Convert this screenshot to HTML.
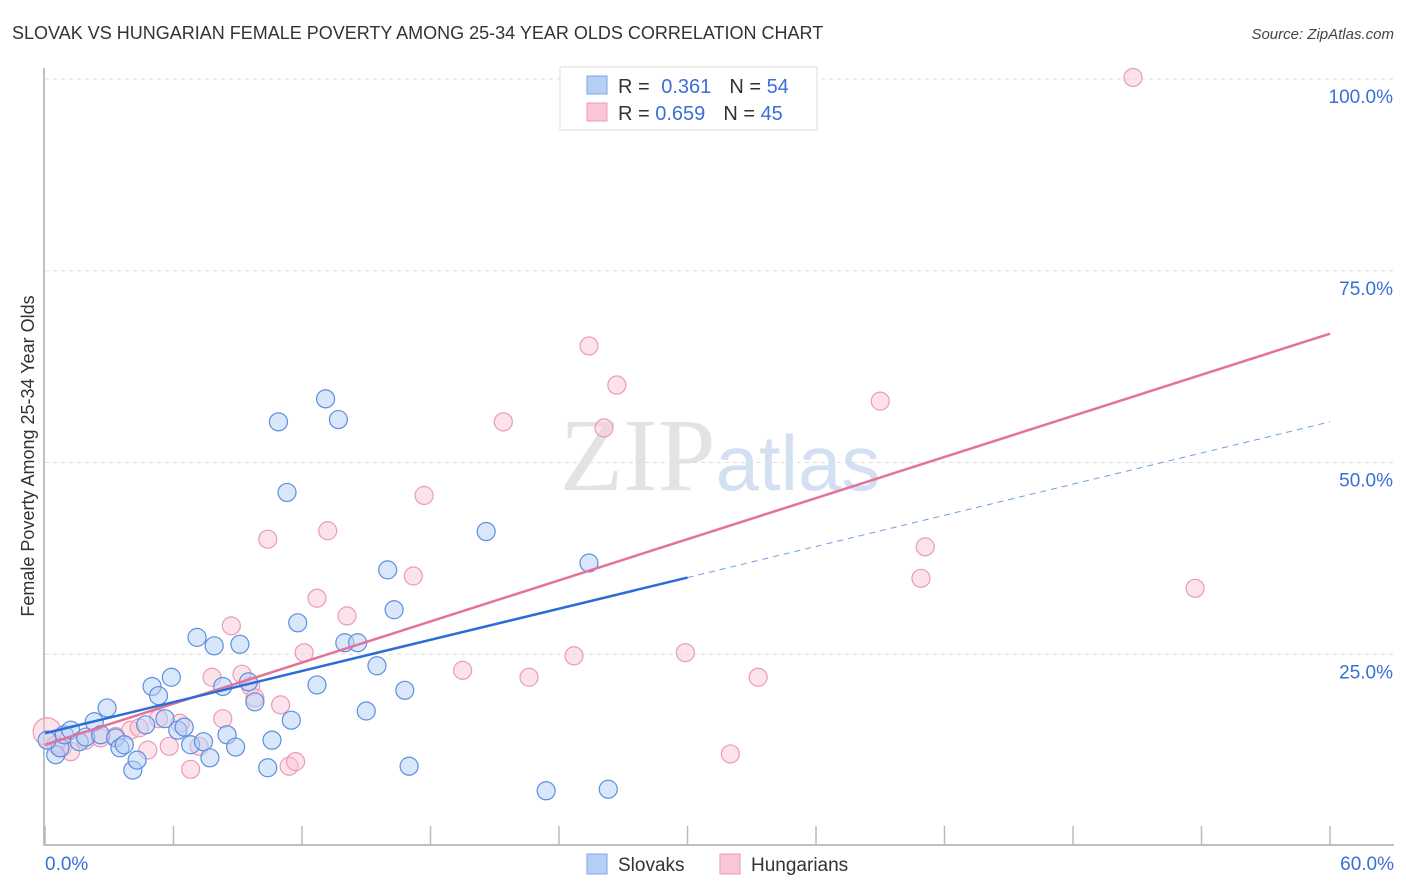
<!DOCTYPE html>
<html><head><meta charset="utf-8"><style>
body{margin:0;background:#fff;font-family:"Liberation Sans",sans-serif;}
svg{display:block}
</style></head><body>
<svg id="chart" width="1406" height="892" xmlns="http://www.w3.org/2000/svg">
<text x="12" y="39" font-size="18" fill="#333">SLOVAK VS HUNGARIAN FEMALE POVERTY AMONG 25-34 YEAR OLDS CORRELATION CHART</text>
<text x="1394" y="39" font-size="15" font-style="italic" fill="#444" text-anchor="end">Source: ZipAtlas.com</text>
<text x="720" y="490" font-size="104" font-family="Liberation Serif" fill="#ddd" text-anchor="middle" opacity="0.8">ZIP<tspan fill="#c9d9f0" font-family="Liberation Sans" font-size="78">atlas</tspan></text>
<g id="grid"></g><g id="axes"></g><g id="pts"></g><g id="lines"></g>
<text transform="translate(34,456) rotate(-90)" font-size="18" fill="#333" text-anchor="middle">Female Poverty Among 25-34 Year Olds</text>
<g>
<rect x="560" y="67" width="257" height="63" fill="#fff" stroke="#ddd"/>
<rect x="587" y="76" width="20" height="18" fill="#b6d0f5" stroke="#7aa6e6"/>
<rect x="587" y="103" width="20" height="18" fill="#f9c6d6" stroke="#ee9ab5"/>
<text x="618" y="93" font-size="20" fill="#333">R = <tspan fill="#3a6fd8" dx="6">0.361</tspan><tspan fill="#333" dx="18">N = </tspan><tspan fill="#3a6fd8">54</tspan></text>
<text x="618" y="120" font-size="20" fill="#333">R = <tspan fill="#3a6fd8">0.659</tspan><tspan fill="#333" dx="18">N = </tspan><tspan fill="#3a6fd8">45</tspan></text>
</g>
<g>
<rect x="587" y="854" width="20" height="20" fill="#b6d0f5" stroke="#7aa6e6"/>
<text x="618" y="871" font-size="19" fill="#333">Slovaks</text>
<rect x="720" y="854" width="20" height="20" fill="#f9c6d6" stroke="#ee9ab5"/>
<text x="751" y="871" font-size="19" fill="#333">Hungarians</text>
</g>
</svg>
<script>
const yTicks=[25,50,75,100];
const yTickLabels=["25.0%","50.0%","75.0%","100.0%"];
const xTicks=[0,6,12,18,24,30,36,42,48,54,60];
const slovakX=[0.5,0.7,0.9,1.2,1.6,1.9,2.3,2.6,2.9,3.3,3.5,3.7,4.1,4.3,4.7,5.0,5.3,5.6,5.9,6.2,6.5,6.8,7.1,7.4,7.7,7.9,8.3,8.5,8.9,9.1,9.5,9.8,10.4,10.6,10.9,11.3,11.5,11.8,12.7,13.1,13.7,14.0,14.6,15.0,15.5,16.0,16.3,16.8,17.0,20.6,23.4,25.4,26.3,0.1];
const slovakY=[11.9,12.8,14.5,15.1,13.6,14.2,16.2,14.5,18.0,14.1,12.8,13.2,9.9,11.2,15.8,20.8,19.6,16.6,22.0,15.1,15.5,13.2,27.2,13.6,11.5,26.1,20.8,14.5,12.9,26.3,21.4,18.8,10.2,13.8,55.3,46.1,16.4,29.1,21.0,58.3,55.6,26.5,26.5,17.6,23.5,36.0,30.8,20.3,10.4,41.0,7.2,36.9,7.4,13.8];
const hungX=[0.1,0.5,0.8,1.2,1.9,2.6,3.3,4.0,4.4,4.8,5.3,5.8,6.3,6.8,7.2,7.8,8.3,8.7,9.2,9.6,9.8,10.4,11.0,11.4,11.7,12.1,12.7,13.2,14.1,17.2,17.7,19.5,21.4,22.6,24.7,25.4,26.1,26.7,29.9,32.0,33.3,39.0,40.9,41.1,50.8,53.7];
const hungY=[14.9,13.2,12.8,12.3,13.8,14.1,14.3,15.1,15.4,12.5,16.6,13.0,16.0,10.0,13.0,22.0,16.6,28.7,22.4,20.8,19.3,40.0,18.4,10.4,11.0,25.2,32.3,41.1,30.0,35.2,45.7,22.9,55.3,22.0,24.8,65.2,54.5,60.1,25.2,12.0,22.0,58.0,34.9,39.0,100.2,33.6];
const blueLine=[[0,14.7],[30,35.0]], blueDash=[[30,35.0],[60,55.3]], pinkLine=[[0,13.2],[60,66.8]];
const X=v=>45+v*21.417, Y=v=>846-v*7.67;
const NS="http://www.w3.org/2000/svg";
function mk(tag,parent,attrs){const e=document.createElementNS(NS,tag);for(const k in attrs)e.setAttribute(k,attrs[k]);document.getElementById(parent).appendChild(e);return e;}
yTicks.forEach((t,i)=>{
 const g=mk('line','grid',{x1:45,x2:1394,y1:Y(t),y2:Y(t),stroke:'#ddd','stroke-dasharray':'4,4'});
 
 
 const l=mk('text','grid',{x:1393,y:Y(t)+24,'font-size':19,fill:'#3a6fd8','text-anchor':'end'});l.textContent=yTickLabels[i];
 
 
});
const ax=mk('path','axes',{d:`M44,68 V845 H1394`,stroke:'#aaa',fill:'none','stroke-width':1.5});


xTicks.forEach(t=>{
 const k=mk('line','axes',{x1:X(t),x2:X(t),y1:826,y2:845,stroke:'#bbb','stroke-width':1.5});
 
 
});
[[0,"0.0%",'start',45],[60,"60.0%",'end',1394]].forEach(a=>{const t=mk('text','axes',{x:a[3],y:870,'font-size':19,fill:'#3a6fd8','text-anchor':a[2]});t.textContent=a[1];
 
 });
function pts(xs,ys,fill,stroke,name){xs.forEach((x,i)=>{
 const c=mk('circle','pts',{cx:X(x),cy:Y(ys[i]),r:(i==0&&name=='hungarian-point')?14:9,fill:fill,'fill-opacity':0.5,stroke:stroke,'stroke-width':1.2});
 
 
});}
pts(hungX,hungY,'#f9c6d6','#ee9ab5','hungarian-point');
pts(slovakX,slovakY,'#b6d0f5','#5b8fe0','slovak-point');
function line(p,col,w,dash,name){const l=mk('line','lines',{x1:X(p[0][0]),y1:Y(p[0][1]),x2:X(p[1][0]),y2:Y(p[1][1]),stroke:col,'stroke-width':w});if(dash)l.setAttribute('stroke-dasharray',dash);
 
 }
line(pinkLine,'#e4719a',2.5,null,'hungarian-trendline');
line(blueLine,'#2a6dd6',2.5,null,'slovak-trendline');
line(blueDash,'#6f9de0',1,'6,5','slovak-trendline-extension');
</script>
</body></html>
